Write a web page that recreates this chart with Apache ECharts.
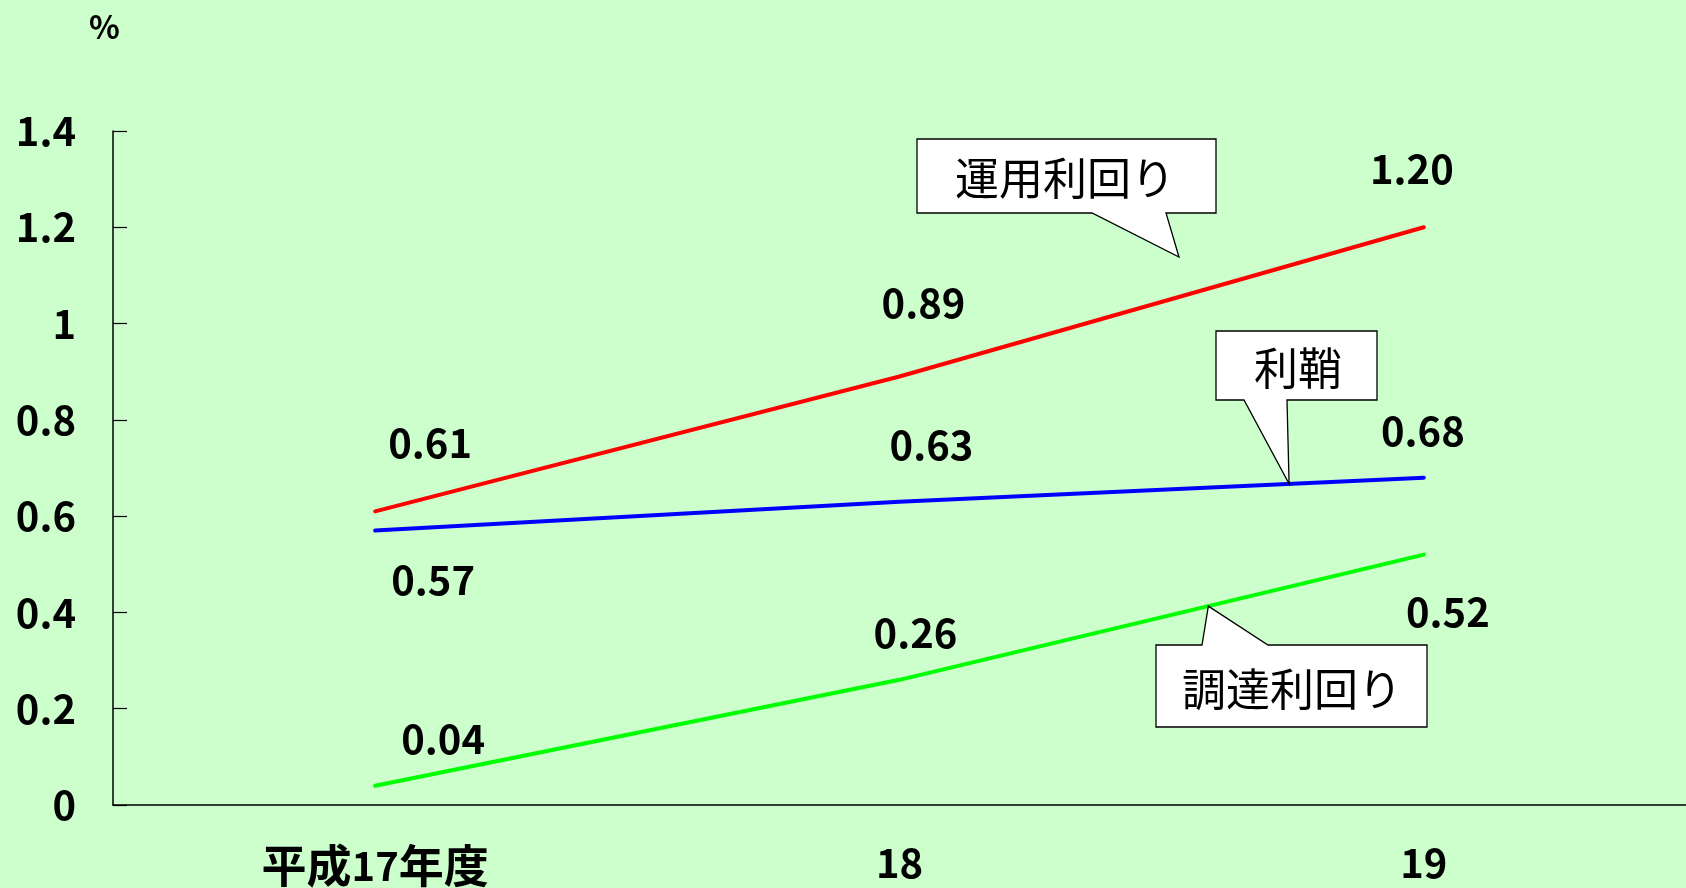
<!DOCTYPE html>
<html><head><meta charset="utf-8">
<script src="https://cdn.jsdelivr.net/npm/echarts@6/dist/echarts.min.js"></script>
<style>html,body{margin:0;padding:0;background:#ccffcc}#c{width:1686px;height:888px}</style>
</head><body><div id="c"></div>
<script>
// ---- data ----
const categories = ['平成17年度', '18', '19'];
const yieldOnAssets = [0.61, 0.89, 1.20];   // 運用利回り
const spread = [0.57, 0.63, 0.68];          // 利鞘
const fundingCost = [0.04, 0.26, 0.52];     // 調達利回り
const seriesNames = ['運用利回り', '利鞘', '調達利回り'];
const yMin = 0, yMax = 1.4, yStep = 0.2;

// ---- label placement (styling, px offsets from each point) ----
const labelOffsets = [
  [[55, -69], [24, -74], [-12, -58]],
  [[58, 49], [32, -57], [-1, -47]],
  [[68, -47], [16, -47], [24, 57]]
];
const colors = ['#ff0000', '#0000ff', '#00ff00'];
const FONT = '"Noto Sans CJK JP", "Noto Sans", sans-serif';

const chart = echarts.init(document.getElementById('c'), null, {renderer: 'canvas'});
const allValues = [yieldOnAssets, spread, fundingCost];

function mkSeries(i) {
  return {
    name: seriesNames[i],
    type: 'line',
    data: allValues[i].map((v, k) => ({value: v, label: {offset: labelOffsets[i][k]}})),
    showSymbol: true,
    symbol: 'circle',
    symbolSize: 0,
    lineStyle: {color: colors[i], width: 4, cap: 'round'},
    itemStyle: {color: colors[i]},
    label: {
      show: true, position: 'inside', align: 'center', verticalAlign: 'middle',
      color: '#000', fontFamily: FONT, fontSize: 40, fontWeight: 'bold',
      formatter: p => Number(p.value).toFixed(2)
    },
    emphasis: {disabled: true},
    z: 3 - i
  };
}

const option = {
  backgroundColor: '#ccffcc',
  animation: false,
  title: {
    text: '%', left: 84, top: 6,
    textStyle: {fontFamily: FONT, fontSize: 32, fontWeight: 'bold', color: '#000'}
  },
  grid: {left: 113, right: 0, top: 131, bottom: 81.5, containLabel: false},
  xAxis: {
    type: 'category', data: categories, boundaryGap: true,
    axisLine: {lineStyle: {color: '#000', width: 1.5}},
    axisTick: {inside: true, length: 12, lineStyle: {color: '#000', width: 1.2}},
    axisLabel: {
      margin: 38, color: '#000', fontFamily: FONT, fontSize: 40, fontWeight: 'bold',
      formatter: v => v.replace(/([^0-9]+)/g, '{c|$1}'),
      rich: {c: {fontFamily: FONT, fontSize: 45, fontWeight: 'bold', color: '#000'}}
    },
    splitLine: {show: false}
  },
  yAxis: {
    type: 'value', min: yMin, max: yMax, interval: yStep,
    axisLine: {show: true, lineStyle: {color: '#000', width: 1.5}},
    axisTick: {show: true, inside: true, length: 14, lineStyle: {color: '#000', width: 1.2}},
    axisLabel: {margin: 37, color: '#000', fontFamily: FONT, fontSize: 40, fontWeight: 'bold'},
    splitLine: {show: false}
  },
  series: [mkSeries(0), mkSeries(1), mkSeries(2)]
};
chart.setOption(option);

// ---- callouts ----
function lerpPix(si, k, t) {
  const a = chart.convertToPixel({seriesIndex: si}, [k, allValues[si][k]]);
  const b = chart.convertToPixel({seriesIndex: si}, [k + 1, allValues[si][k + 1]]);
  return [a[0] + (b[0] - a[0]) * t, a[1] + (b[1] - a[1]) * t];
}
const tipBlue = lerpPix(1, 1, 0.743);
const tipGreen = lerpPix(2, 1, 0.589);
const tipRed = [1179, 257];

const boxStyle = {fill: '#ffffff', stroke: '#000', lineWidth: 1.3};
function txt(s, x, y) {
  return {type: 'text', z: 11, style: {text: s, x: x, y: y, align: 'center', verticalAlign: 'middle',
    textAlign: 'center', textVerticalAlign: 'middle', fontSize: 44, fontFamily: FONT, fill: '#000'}};
}
chart.setOption({
  graphic: [
    {type: 'polygon', z: 10, shape: {points: [[917,139],[1216,139],[1216,213],[1166,213],tipRed,[1092,213],[917,213]]}, style: boxStyle},
    txt('運用利回り', 1065, 178),
    {type: 'polygon', z: 10, shape: {points: [[1216,331],[1377,331],[1377,400],[1287,400],tipBlue,[1244,400],[1216,400]]}, style: boxStyle},
    txt('利鞘', 1298, 368),
    {type: 'polygon', z: 10, shape: {points: [[1156,645],[1202,645],tipGreen,[1268,645],[1427,645],[1427,727],[1156,727]]}, style: boxStyle},
    txt('調達利回り', 1292, 689)
  ]
});
</script></body></html>
